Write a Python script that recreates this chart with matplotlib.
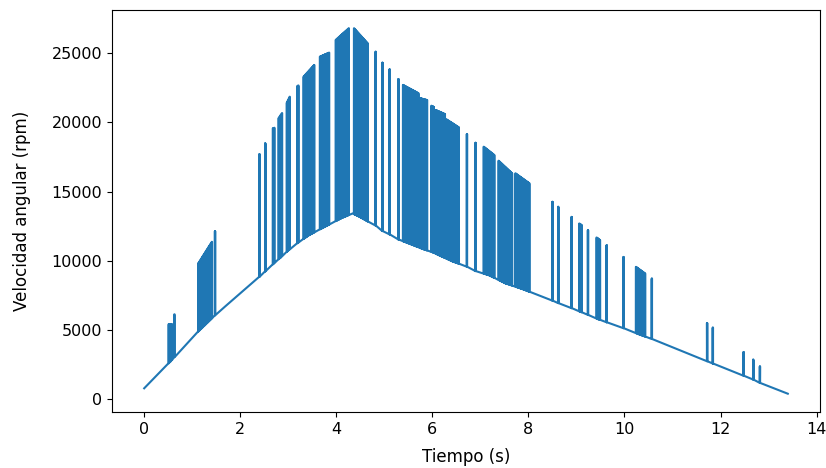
import numpy as np
import matplotlib
matplotlib.use("Agg")
import matplotlib.pyplot as plt

# Baseline: time (s) and angular speed (rpm)
base_t = [0.00, 0.55, 1.13, 1.475, 1.70, 2.40, 2.52, 2.69, 2.84, 3.00, 3.20, 3.43,
          3.75, 4.12, 4.34, 4.50, 4.65, 4.82, 4.96, 5.11, 5.29, 5.55, 5.82, 6.02,
          6.16, 6.42, 6.72, 6.90, 7.18, 7.52, 7.87, 8.50, 8.62, 8.90, 9.24, 9.45,
          9.63, 9.98, 10.33, 10.57, 11.72, 11.84, 12.48, 12.68, 12.82, 13.40]
base_v = [800, 2750, 4915, 6070, 6750, 8850, 9240, 9780, 10240, 10750, 11300, 11850,
          12440, 13100, 13420, 13150, 12850, 12545, 12150, 11910, 11550, 11200, 10830, 10600,
          10370, 9960, 9575, 9260, 8960, 8380, 7970, 7130, 6950, 6585, 6100, 5790,
          5565, 5140, 4660, 4360, 2755, 2590, 1710, 1435, 1190, 410]

# Spike groups (doubled readings): start time, end time, top at start, top at end
spike_t0 = [0.51, 0.63, 1.13, 1.475, 2.40, 2.52, 2.68, 2.80, 2.97, 3.19, 3.32, 3.66,
            3.99, 4.37, 4.82, 4.96, 5.11, 5.29, 5.39, 5.75, 5.98, 6.07, 6.29, 6.72,
            6.90, 7.07, 7.38, 7.73, 8.50, 8.62, 8.90, 9.06, 9.24, 9.42, 9.63, 9.98,
            10.24, 10.57, 11.72, 11.84, 12.48, 12.68, 12.82]
spike_t1 = [0.58, 0.63, 1.41, 1.475, 2.40, 2.52, 2.71, 2.87, 3.03, 3.21, 3.54, 3.85,
            4.26, 4.65, 4.82, 4.96, 5.11, 5.30, 5.71, 5.89, 6.03, 6.26, 6.55, 6.72,
            6.90, 7.29, 7.66, 8.02, 8.50, 8.62, 8.90, 9.11, 9.24, 9.49, 9.63, 9.98,
            10.43, 10.57, 11.72, 11.84, 12.48, 12.68, 12.82]
spike_v0 = [5420, 6140, 9830, 12140, 17700, 18480, 19560, 20300, 21400, 22600, 23290, 24730,
            25940, 26780, 25090, 24300, 23820, 23100, 22690, 21730, 21190, 20880, 20210, 19150,
            18520, 18230, 17220, 16310, 14260, 13900, 13170, 12690, 12210, 11680, 11130, 10280,
            9560, 8720, 5510, 5180, 3420, 2870, 2380]
spike_v1 = [5420, 6140, 11370, 12140, 17700, 18480, 19600, 20660, 21840, 22650, 24130, 25020,
            26780, 25700, 25090, 24300, 23820, 23100, 22090, 21600, 21100, 20590, 19630, 19150,
            18520, 17630, 16310, 15590, 14260, 13900, 13170, 12570, 12210, 11490, 11130, 10280,
            9080, 8720, 5510, 5180, 3420, 2870, 2380]

# Build the polyline: baseline vertices plus up/down strokes for each spike group
step = 0.013
pts = [(t, v) for t, v in zip(base_t, base_v)]
for a, b, va, vb in zip(spike_t0, spike_t1, spike_v0, spike_v1):
    n = max(1, int(round((b - a) / step)))
    ts = np.linspace(a, b, n + 1)
    tops = np.linspace(va, vb, n + 1)
    for tt, top in zip(ts, tops):
        bl = float(np.interp(tt, base_t, base_v))
        pts.append((tt - 0.004, bl))
        pts.append((tt - 0.003, top))
        pts.append((tt + 0.003, top))
        pts.append((tt + 0.004, bl))
pts.sort(key=lambda p: p[0])
t_all = [p[0] for p in pts]
v_all = [p[1] for p in pts]

fig = plt.figure(figsize=(8.26, 4.68), dpi=100)
ax = fig.add_axes([0.1356, 0.1197, 0.8571, 0.8589])
ax.plot(t_all, v_all, color="#1f77b4", linewidth=1.5)
ax.set_xlabel("Tiempo (s)", fontsize=12, labelpad=8)
ax.set_ylabel("Velocidad angular (rpm)", fontsize=12, labelpad=15)
ax.tick_params(labelsize=11.5)
fig.savefig("out.png", dpi=100)
